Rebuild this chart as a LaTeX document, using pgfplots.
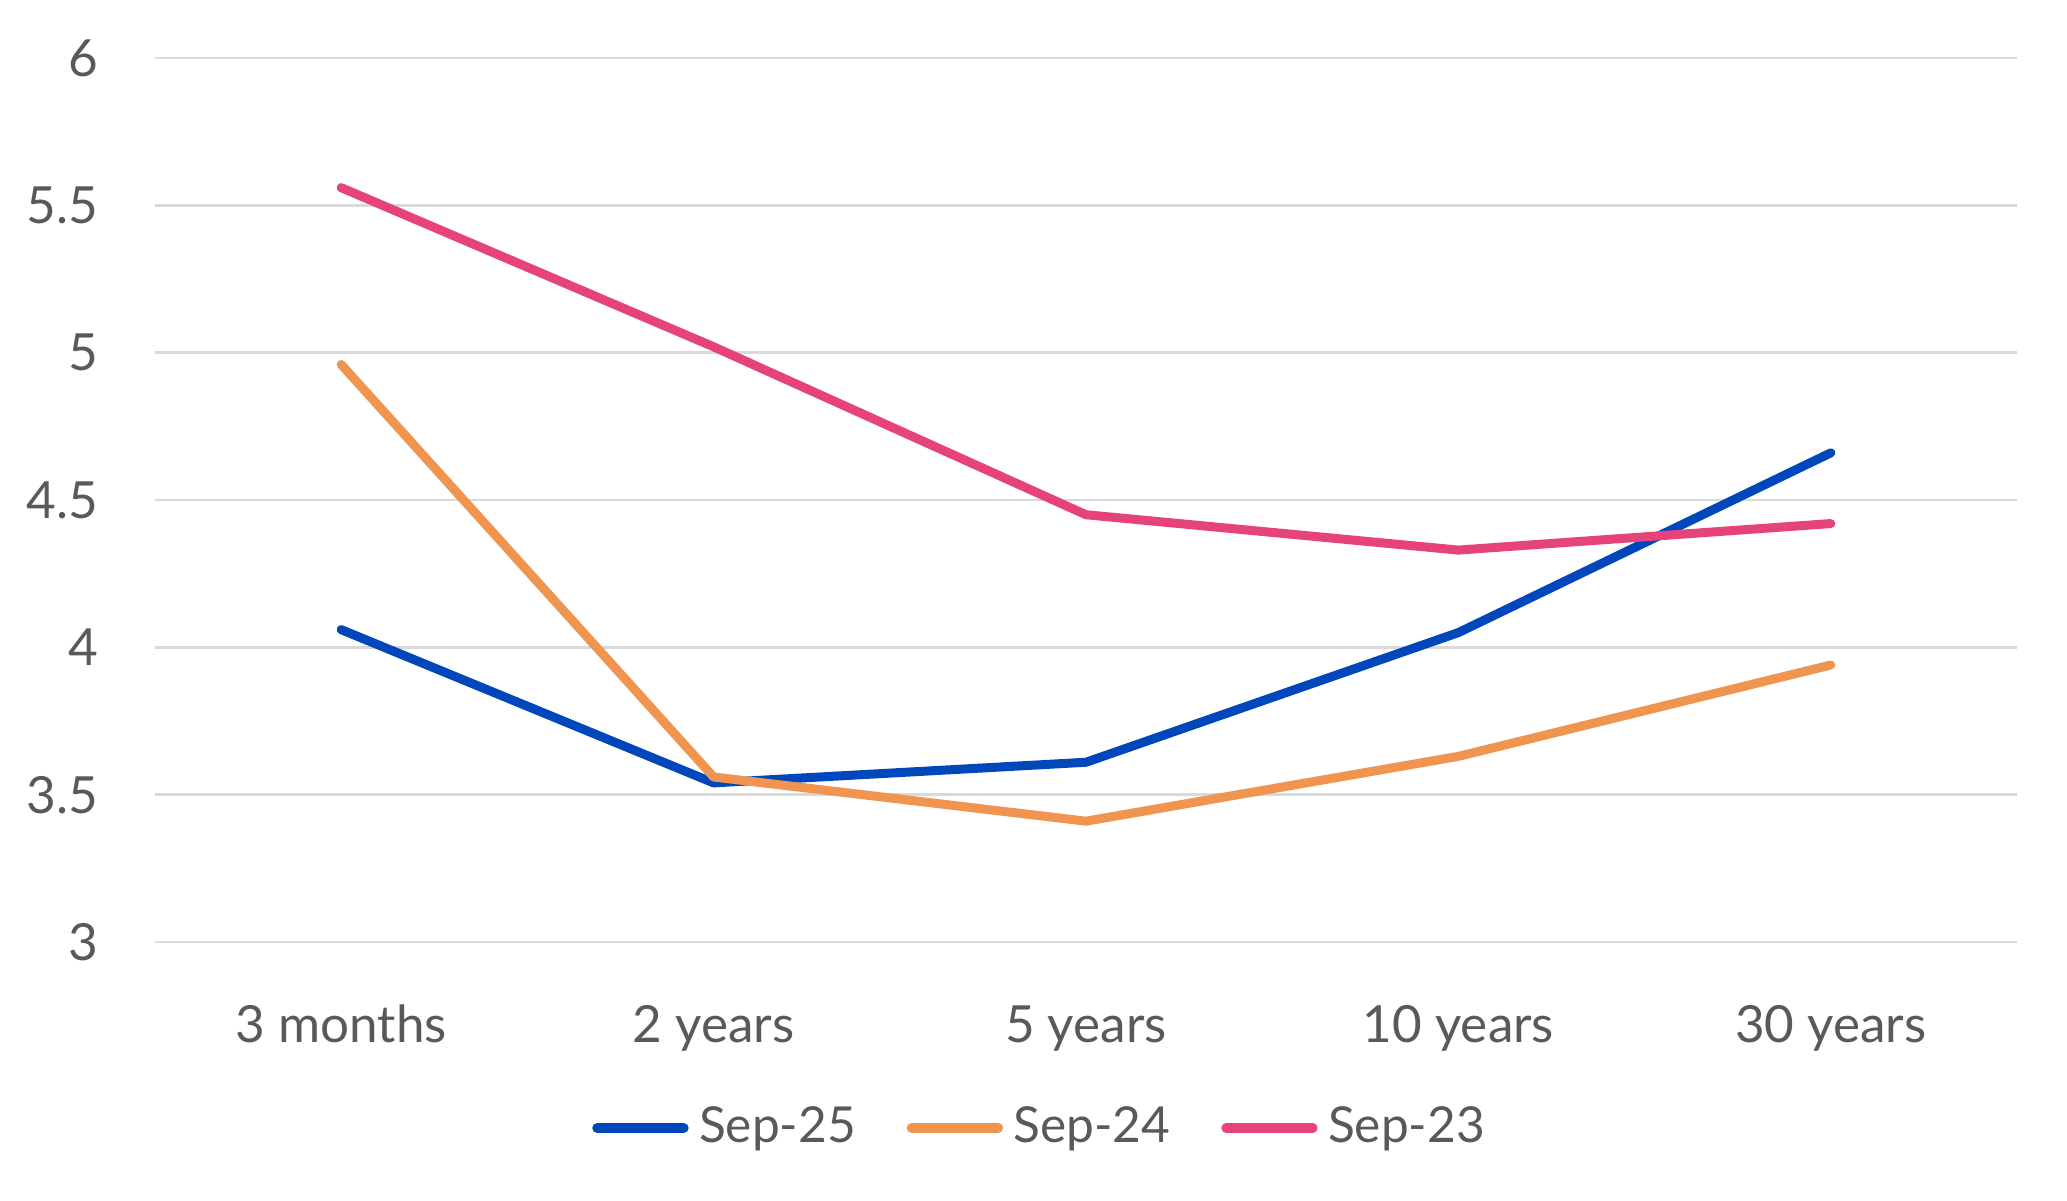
\documentclass[border=0pt]{standalone}
\usepackage{pgfplots}
\pgfplotsset{compat=1.18}
\usepackage{fontspec}
\setmainfont{Lato}
\definecolor{c25}{HTML}{0047BB}
\definecolor{c24}{HTML}{F0954F}
\definecolor{c23}{HTML}{E5437A}
\definecolor{txt}{HTML}{595959}
\definecolor{grd}{HTML}{D9D9D9}
\newcommand{\lblfont}{\fontsize{12.8bp}{15bp}\selectfont}
\begin{document}
\begin{tikzpicture}
\begin{axis}[
  at={(0,0)}, anchor=south west,
  scale only axis,
  width=465.5bp, height=221bp,
  xmin=-0.5, xmax=4.5,
  ymin=3, ymax=6,
  xtick={0,1,2,3,4},
  xticklabels={3 months,2 years,5 years,10 years,30 years},
  ytick={3,3.5,4,4.5,5,5.5,6},
  /pgf/number format/assume math mode=true,
  ymajorgrids,
  grid style={grd, line width=0.7bp},
  axis line style={draw=none},
  major tick length=0pt,
  tick style={draw=none},
  clip=false,
  tick label style={font=\lblfont, text=txt, inner sep=0pt},
  xticklabel style={anchor=base, yshift=-25.1bp},
  yticklabel style={anchor=east, xshift=-14bp},
  legend columns=3,
  legend style={at={(0.4745,-0.2104)}, anchor=center, draw=none, fill=none,
    font=\fontsize{12.4bp}{15bp}\selectfont, text=txt, nodes={inner sep=0pt},
    /tikz/every odd column/.style={column sep=2.6bp},
    /tikz/every even column/.style={column sep=12.75bp}},
  legend image code/.code={\draw[#1, line width=2.5bp, line cap=round] (1.2bp,0bp) -- (22.8bp,0bp);},
  every axis plot/.append style={line width=2.25bp, line cap=round, line join=round},
]
\addplot[c25] coordinates {(0,4.06) (1,3.54) (2,3.61) (3,4.05) (4,4.66)};
\addlegendentry{Sep-25}
\addplot[c24] coordinates {(0,4.96) (1,3.56) (2,3.41) (3,3.63) (4,3.94)};
\addlegendentry{Sep-24}
\addplot[c23] coordinates {(0,5.56) (1,5.02) (2,4.45) (3,4.33) (4,4.42)};
\addlegendentry{Sep-23}
\end{axis}
\path (-38.75bp,-64.75bp) (478bp,235.5bp);
\end{tikzpicture}
\end{document}
